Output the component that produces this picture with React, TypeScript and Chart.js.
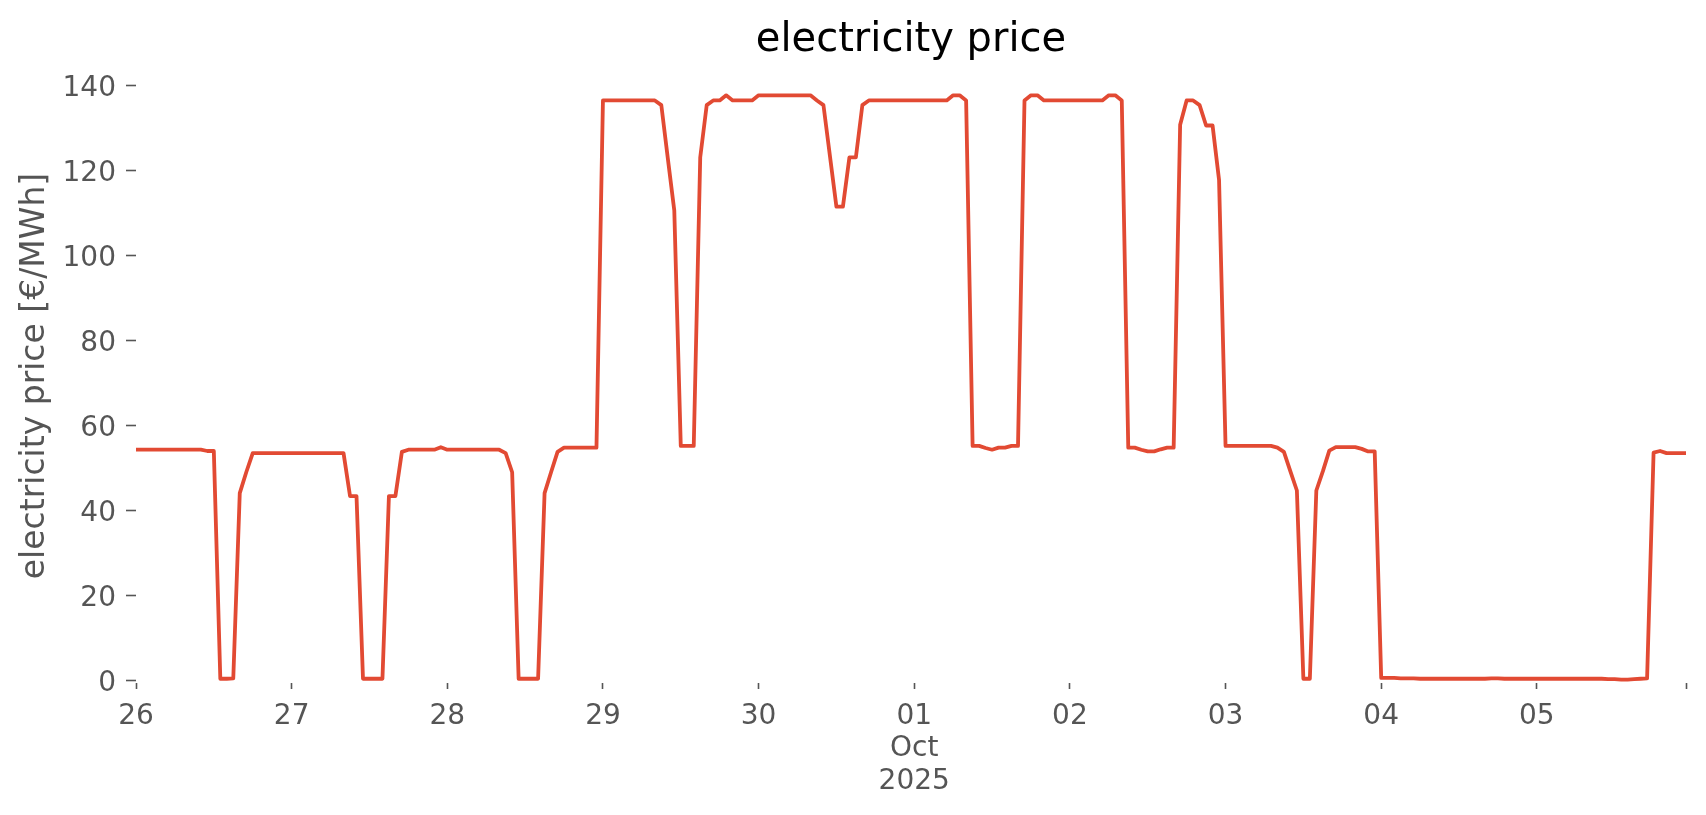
import React, { useEffect, useRef } from "react";
import { Chart, registerables } from "chart.js";

Chart.register(...registerables);

// ---- data (hourly day-ahead prices, €/MWh) ----
const DAY_LABELS = ["26", "27", "28", "29", "30", "01", "02", "03", "04", "05"];
const MONTH_START_INDEX = 5;
const MONTH_LABEL = "Oct";
const YEAR_LABEL = "2025";
const Y_TICKS = [0, 20, 40, 60, 80, 100, 120, 140];

const SEP26 = [54.4, 54.4, 54.4, 54.4, 54.4, 54.4, 54.4, 54.4, 54.4, 54.4, 54.4, 54.1, 54.1, 0.5, 0.5, 0.6, 44.2, 49.1, 53.6, 53.6, 53.6, 53.6, 53.6, 53.6];
const SEP27 = [53.6, 53.6, 53.6, 53.6, 53.6, 53.6, 53.6, 53.6, 53.6, 43.5, 43.5, 0.5, 0.5, 0.5, 0.5, 43.5, 43.5, 53.9, 54.4, 54.4, 54.4, 54.4, 54.4, 55.0];
const SEP28 = [54.4, 54.4, 54.4, 54.4, 54.4, 54.4, 54.4, 54.4, 54.4, 53.6, 49.1, 0.5, 0.5, 0.5, 0.5, 44.2, 49.1, 53.9, 54.9, 54.9, 54.9, 54.9, 54.9, 54.9];
const SEP29 = [136.6, 136.6, 136.6, 136.6, 136.6, 136.6, 136.6, 136.6, 136.6, 135.5, 123.0, 110.7, 55.3, 55.3, 55.3, 123.2, 135.5, 136.6, 136.6, 137.8, 136.6, 136.6, 136.6, 136.6];
const SEP30 = [137.8, 137.8, 137.8, 137.8, 137.8, 137.8, 137.8, 137.8, 137.8, 136.6, 135.5, 123.5, 111.6, 111.6, 123.2, 123.2, 135.5, 136.6, 136.6, 136.6, 136.6, 136.6, 136.6, 136.6];
const OCT1 = [136.6, 136.6, 136.6, 136.6, 136.6, 136.6, 137.8, 137.8, 136.6, 55.3, 55.3, 54.8, 54.4, 54.9, 54.9, 55.3, 55.3, 136.6, 137.8, 137.8, 136.6, 136.6, 136.6, 136.6];
const OCT2 = [136.6, 136.6, 136.6, 136.6, 136.6, 136.6, 137.8, 137.8, 136.6, 54.9, 54.9, 54.4, 54.0, 54.0, 54.5, 54.9, 54.9, 130.9, 136.6, 136.6, 135.5, 130.7, 130.7, 117.9];
const OCT3 = [55.3, 55.3, 55.3, 55.3, 55.3, 55.3, 55.3, 55.3, 54.9, 53.9, 49.3, 44.8, 0.5, 0.5, 44.8, 49.3, 54.2, 55.0, 55.0, 55.0, 55.0, 54.6, 54.0, 54.0];
const OCT4 = [0.7, 0.7, 0.7, 0.6, 0.6, 0.6, 0.5, 0.5, 0.5, 0.5, 0.5, 0.5, 0.5, 0.5, 0.5, 0.5, 0.5, 0.6, 0.6, 0.5, 0.5, 0.5, 0.5, 0.5];
const OCT5 = [0.5, 0.5, 0.5, 0.5, 0.5, 0.5, 0.5, 0.5, 0.5, 0.5, 0.5, 0.4, 0.4, 0.3, 0.3, 0.4, 0.5, 0.6, 53.7, 54.1, 53.6, 53.6, 53.6, 53.6];

const PRICES = [...SEP26, ...SEP27, ...SEP28, ...SEP29, ...SEP30, ...OCT1, ...OCT2, ...OCT3, ...OCT4, ...OCT5];
const HOURS_PER_DAY = 24;

const FONT = "DejaVu Sans";
const TICK_COLOR = "#555555";

export default function App() {
  const ref = useRef<HTMLCanvasElement>(null);

  useEffect(() => {
    document.body.style.margin = "0";
    const lastHour = PRICES.length - 1;
    const chart = new Chart(ref.current as HTMLCanvasElement, {
      type: "line",
      data: {
        datasets: [
          {
            data: PRICES.map((v, i) => ({ x: i, y: v })),
            borderColor: "#E24A33",
            borderWidth: 3.8,
            pointRadius: 0,
            tension: 0,
            fill: false,
            borderJoinStyle: "round",
          },
        ],
      },
      options: {
        animation: false,
        responsive: false,
        devicePixelRatio: 1,
        layout: { padding: { left: 0, right: 20, top: 0, bottom: 0 } },
        plugins: {
          legend: { display: false },
          tooltip: { enabled: false },
          title: {
            display: true,
            text: "electricity price",
            color: "#000000",
            fullSize: false,
            font: { family: FONT, size: 40, weight: "normal", lineHeight: 1.2 },
            padding: { top: 17, bottom: 4 },
          },
        },
        scales: {
          x: {
            type: "linear",
            min: 0,
            max: lastHour,
            afterBuildTicks: (s: any) => {
              const t = DAY_LABELS.map((_, i) => ({ value: i * HOURS_PER_DAY }));
              t.push({ value: lastHour });
              s.ticks = t;
            },
            afterFit: (s: any) => {
              s.height = 132;
            },
            border: { display: false },
            grid: {
              drawOnChartArea: false,
              drawTicks: true,
              tickLength: 6,
              tickColor: TICK_COLOR,
              tickWidth: 1.6,
            },
            ticks: {
              autoSkip: false,
              maxRotation: 0,
              minRotation: 0,
              padding: 11,
              color: TICK_COLOR,
              font: { family: FONT, size: 28, lineHeight: 1.17 },
              callback: (_v: any, index: number) => {
                if (index >= DAY_LABELS.length) return "";
                if (index === MONTH_START_INDEX) return [DAY_LABELS[index], MONTH_LABEL, YEAR_LABEL];
                return DAY_LABELS[index];
              },
            },
          },
          y: {
            min: -0.5,
            max: 144,
            afterBuildTicks: (s: any) => {
              s.ticks = Y_TICKS.map((v) => ({ value: v }));
            },
            afterFit: (s: any) => {
              s.width = 136;
            },
            border: { display: false },
            grid: {
              drawOnChartArea: false,
              drawTicks: true,
              tickLength: 10,
              tickColor: TICK_COLOR,
              tickWidth: 1.6,
            },
            ticks: {
              padding: 10,
              labelOffset: 3,
              color: TICK_COLOR,
              font: { family: FONT, size: 28 },
            },
            title: {
              display: true,
              text: "electricity price [€/MWh]",
              color: TICK_COLOR,
              font: { family: FONT, size: 33, lineHeight: 1.2 },
              padding: { top: 16, bottom: 0 },
            },
          },
        },
      },
    });
    return () => chart.destroy();
  }, []);

  return (
    <div style={{ width: 1706, height: 815, background: "#ffffff" }}>
      <canvas ref={ref} width={1706} height={815} style={{ display: "block" }} />
    </div>
  );
}
